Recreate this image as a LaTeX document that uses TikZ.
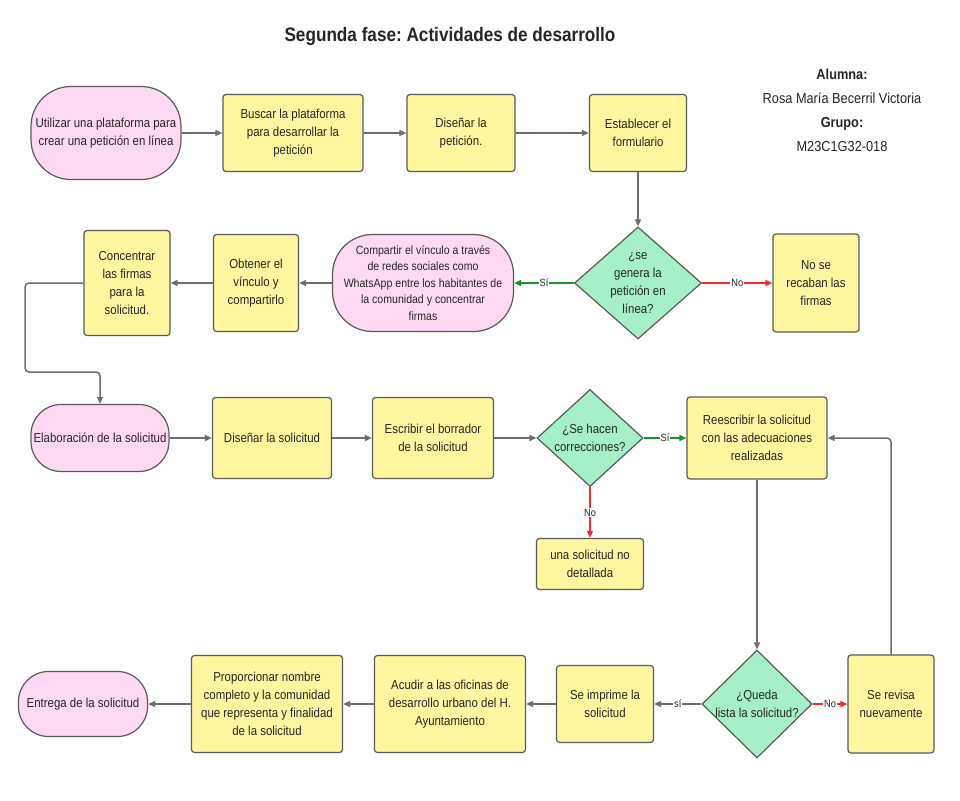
\documentclass[tikz,border=0pt]{standalone}
\usepackage{fontspec}
\setmainfont[FakeStretch=0.88]{Liberation Sans}
\usepackage{xcolor}
\usetikzlibrary{positioning,shapes.geometric,arrows.meta}
\frenchspacing
\definecolor{PinkFill}{RGB}{255,217,244}
\definecolor{YellowFill}{RGB}{255,246,160}
\definecolor{MintFill}{RGB}{166,240,200}
\definecolor{EdgeGray}{RGB}{90,90,90}
\definecolor{LineGray}{RGB}{110,110,110}
\definecolor{YesGreen}{RGB}{20,150,40}
\definecolor{NoRed}{RGB}{250,40,40}

\begin{document}
\begin{tikzpicture}[x=1pt,y=-1pt,
    every node/.style={text=black!85,font=\fontsize{13}{18}\selectfont},
    box/.style={draw=EdgeGray,line width=1.2pt,fill=YellowFill,rounded corners=3pt,align=center,inner sep=2pt},
    pill/.style={draw=EdgeGray,line width=1.2pt,fill=PinkFill,rounded corners=30pt,align=center,inner sep=2pt},
    decision/.style={draw=EdgeGray,line width=1.2pt,fill=MintFill,diamond,align=center,inner sep=-6pt},
    flow/.style={draw=LineGray,line width=1.5pt,-{Triangle[length=7pt,width=6pt]}},
    yes/.style={flow,draw=YesGreen},
    no/.style={flow,draw=NoRed},
    lbl/.style={midway,fill=white,inner sep=1pt,font=\fontsize{10.5}{10.5}\selectfont}]
        \useasboundingbox[fill=white] (0,0) rectangle (960,800);

        % Title
        \node[font=\bfseries\fontsize{19.5}{22}\selectfont] (titulo) at (450,37) {Segunda fase: Actividades de desarrollo};
        \node[align=center,font=\fontsize{14.5}{24}\selectfont] (autora) at (842,110) {\textbf{Alumna:}\\Rosa María Becerril Victoria\\\textbf{Grupo:}\\M23C1G32-018};

        % Row 1
        \node[pill,rounded corners=40pt,minimum width=150,minimum height=93] (inicio) at (106,133) {Utilizar una plataforma para\\crear una petición en línea};
        \node[box,minimum width=140,minimum height=77] (buscar) at (293,133) {Buscar la plataforma\\para desarrollar la\\petición};
        \node[box,minimum width=108,minimum height=77] (disenar) at (461,133) {Diseñar la\\petición.};
        \node[box,minimum width=97,minimum height=77] (formulario) at (638,133) {Establecer el\\formulario};

        % Row 2
        \node[decision,minimum width=127,minimum height=112] (genera) at (638,283) {¿se\\genera la\\petición en\\línea?};
        \node[box,minimum width=86,minimum height=98] (norecaba) at (816,283) {No se\\recaban las\\firmas};
        \node[pill,rounded corners=40pt,minimum width=181,minimum height=97,font=\fontsize{12}{16.5}\selectfont] (compartir) at (423,283) {Compartir el vínculo a través\\de redes sociales como\\WhatsApp entre los habitantes de\\la comunidad y concentrar\\firmas};
        \node[box,minimum width=85,minimum height=97] (obtener) at (256,283) {Obtener el\\vínculo y\\compartirlo};
        \node[box,minimum width=86,minimum height=105] (concentrar) at (127,283) {Concentrar\\las firmas\\para la\\solicitud.};
        \coordinate (vuelta) at (25,372);

        % Row 3
        \node[pill,minimum width=138,minimum height=67] (elaboracion) at (100,438) {Elaboración de la solicitud};
        \node[box,minimum width=119,minimum height=81] (disenosol) at (272,438) {Diseñar la solicitud};
        \node[box,minimum width=121,minimum height=81] (borrador) at (433,438) {Escribir el borrador\\de la solicitud};
        \node[decision,minimum width=106,minimum height=97] (correcciones) at (590,438) {¿Se hacen\\correcciones?};
        \node[box,minimum width=140,minimum height=82] (reescribir) at (757,438) {Reescribir la solicitud\\con las adecuaciones\\realizadas};
        \node[box,minimum width=107,minimum height=51] (nodetallada) at (590,564) {una solicitud no\\detallada};

        % Row 4
        \node[decision,minimum width=110,minimum height=108] (lista) at (757,704) {¿Queda\\lista la solicitud?};
        \node[box,minimum width=86,minimum height=98] (revisa) at (891,704) {Se revisa\\nuevamente};
        \node[box,minimum width=97,minimum height=77] (imprime) at (605,704) {Se imprime la\\solicitud};
        \node[box,minimum width=151,minimum height=97] (acudir) at (450,704) {Acudir a las oficinas de\\desarrollo urbano del H.\\Ayuntamiento};
        \node[box,minimum width=151,minimum height=97] (proporcionar) at (267,704) {Proporcionar nombre\\completo y la comunidad\\que representa y finalidad\\de la solicitud};
        \node[pill,minimum width=129,minimum height=65] (entrega) at (83,704) {Entrega de la solicitud};

        % Connectors
        \draw[flow] (inicio) -- (buscar);
        \draw[flow] (buscar) -- (disenar);
        \draw[flow] (disenar) -- (formulario);
        \draw[flow] (formulario) -- (genera);
        \draw[no] (genera) -- (norecaba) node[lbl] {No};
        \draw[yes] (genera) -- (compartir) node[lbl] {Sí};
        \draw[flow] (compartir) -- (obtener);
        \draw[flow] (obtener) -- (concentrar);
        \draw[flow,rounded corners=4pt] (concentrar.west) -| (vuelta) -| (elaboracion.north);
        \draw[flow] (elaboracion) -- (disenosol);
        \draw[flow] (disenosol) -- (borrador);
        \draw[flow] (borrador) -- (correcciones);
        \draw[yes] (correcciones) -- (reescribir) node[lbl] {Sí};
        \draw[no] (correcciones) -- (nodetallada) node[lbl] {No};
        \draw[flow] (reescribir) -- (lista);
        \draw[no] (lista) -- (revisa) node[lbl] {No};
        \draw[flow] (lista) -- (imprime) node[lbl] {sí};
        \draw[flow,rounded corners=4pt] (revisa.north) |- (reescribir.east);
        \draw[flow] (imprime) -- (acudir);
        \draw[flow] (acudir) -- (proporcionar);
        \draw[flow] (proporcionar) -- (entrega);
    \end{tikzpicture}
\end{document}
